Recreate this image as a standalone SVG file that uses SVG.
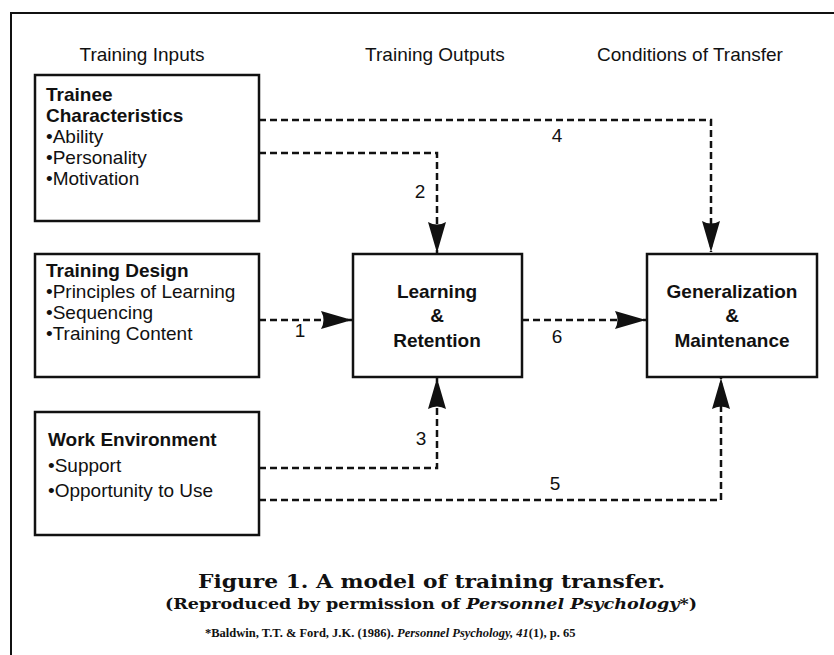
<svg xmlns="http://www.w3.org/2000/svg" width="834" height="655" viewBox="0 0 834 655">
<defs>
<style>
.box{fill:#fff;stroke:#111;stroke-width:2.5}
.frame{fill:none;stroke:#111;stroke-width:2}
.hdr{font-family:"Liberation Sans",Arial,sans-serif;font-size:19px;fill:#111}
.b{font-family:"Liberation Sans",Arial,sans-serif;font-size:19px;font-weight:bold;fill:#111}
.t{font-family:"Liberation Sans",Arial,sans-serif;font-size:19px;fill:#111}
.c{text-anchor:middle}
.con{fill:none;stroke:#111;stroke-width:2.5;stroke-dasharray:7 4}
.num{font-family:"Liberation Sans",Arial,sans-serif;font-size:19px;fill:#111;text-anchor:middle}
.cap1{font-family:"DejaVu Serif","Liberation Serif",serif;font-weight:bold;font-size:19px;fill:#111}
.cap2{font-family:"DejaVu Serif","Liberation Serif",serif;font-weight:bold;font-size:15px;fill:#111}
.cap3{font-family:"Liberation Serif","Times New Roman",serif;font-weight:bold;font-size:12.5px;fill:#111}
</style>
<marker id="ah" markerUnits="userSpaceOnUse" markerWidth="32" markerHeight="18" viewBox="0 0 32 18" refX="31" refY="9" orient="auto">
<path d="M0,0 L31,9 L0,18 Q5,9 0,0 z" fill="#111"/>
</marker>
</defs>
<rect width="834" height="655" fill="#fff"/>
<path class="frame" d="M11,655 V13 H834"/>

<g id="headers">
<text class="hdr c" x="142" y="61">Training Inputs</text>
<text class="hdr c" x="435" y="61">Training Outputs</text>
<text class="hdr c" x="690" y="61">Conditions of Transfer</text>
</g>

<g id="trainee">
<rect class="box" x="35" y="75" width="224" height="146"/>
<text class="b" x="46" y="101">Trainee</text>
<text class="b" x="46" y="122">Characteristics</text>
<text class="t" x="46" y="143">•Ability</text>
<text class="t" x="46" y="164">•Personality</text>
<text class="t" x="46" y="185">•Motivation</text>
</g>

<g id="design">
<rect class="box" x="35" y="254" width="224" height="123"/>
<text class="b" x="46" y="277">Training Design</text>
<text class="t" x="46" y="298">•Principles of Learning</text>
<text class="t" x="46" y="319">•Sequencing</text>
<text class="t" x="46" y="340">•Training Content</text>
</g>

<g id="environment">
<rect class="box" x="35" y="412" width="224" height="123"/>
<text class="b" x="48" y="446">Work Environment</text>
<text class="t" x="48" y="472">•Support</text>
<text class="t" x="48" y="497">•Opportunity to Use</text>
</g>

<g id="learning">
<rect class="box" x="353" y="254" width="169" height="123"/>
<text class="b c" x="437" y="298">Learning</text>
<text class="b c" x="437" y="322">&amp;</text>
<text class="b c" x="437" y="347">Retention</text>
</g>

<g id="generalization">
<rect class="box" x="647" y="254" width="170" height="123"/>
<text class="b c" x="732" y="298">Generalization</text>
<text class="b c" x="732" y="322">&amp;</text>
<text class="b c" x="732" y="347">Maintenance</text>
</g>

<g id="connectors">
<path class="con" d="M259,120 H711 V252" marker-end="url(#ah)"/>
<path class="con" d="M259,153 H437 V253" marker-end="url(#ah)"/>
<path class="con" d="M259,320 H352" marker-end="url(#ah)"/>
<path class="con" d="M522,320 H646" marker-end="url(#ah)"/>
<path class="con" d="M259,468 H437 V378" marker-end="url(#ah)"/>
<path class="con" d="M259,500 H721 V378" marker-end="url(#ah)"/>
<text class="num" x="557" y="142">4</text>
<text class="num" x="420" y="198">2</text>
<text class="num" x="300" y="337">1</text>
<text class="num" x="557" y="343">6</text>
<text class="num" x="421" y="445">3</text>
<text class="num" x="555" y="490">5</text>
</g>

<g id="caption">
<text class="cap1" x="198" y="588" textLength="467" lengthAdjust="spacingAndGlyphs">Figure 1. A model of training transfer.</text>
<text class="cap2" x="165" y="609" textLength="532" lengthAdjust="spacingAndGlyphs">(Reproduced by permission of <tspan font-style="italic">Personnel Psychology</tspan>*)</text>
<text class="cap3" x="205" y="637">*Baldwin, T.T. &amp; Ford, J.K. (1986). <tspan font-style="italic">Personnel Psychology, 41</tspan>(1), p. 65</text>
</g>
</svg>
